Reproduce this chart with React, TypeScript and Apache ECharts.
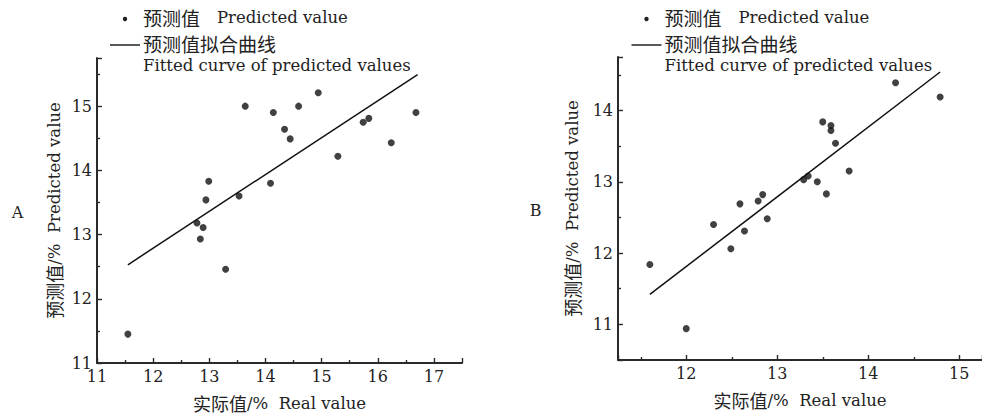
import React, { useEffect, useRef } from "react";
import * as echarts from "echarts";

// Panel A: real vs. predicted values (%)
const realA = [11.55, 12.78, 12.84, 12.89, 12.94, 12.99, 13.29, 13.53, 13.64, 14.09, 14.14, 14.34, 14.44, 14.59, 14.94, 15.29, 15.74, 15.84, 16.24, 16.68];
const predA = [11.45, 13.18, 12.93, 13.11, 13.54, 13.83, 12.46, 13.6, 15.0, 13.8, 14.9, 14.64, 14.49, 15.0, 15.21, 14.22, 14.75, 14.81, 14.43, 14.9];
const fitRealA = [11.55, 16.71];
const fitPredA = [12.53, 15.49];

// Panel B: real vs. predicted values (%)
const realB = [11.6, 12.0, 12.3, 12.49, 12.59, 12.64, 12.79, 12.84, 12.89, 13.29, 13.34, 13.44, 13.5, 13.54, 13.59, 13.59, 13.64, 13.79, 14.3, 14.79];
const predB = [11.84, 10.94, 12.4, 12.06, 12.69, 12.31, 12.73, 12.82, 12.48, 13.03, 13.08, 13.0, 13.84, 12.83, 13.79, 13.72, 13.54, 13.15, 14.39, 14.19];
const fitRealB = [11.6, 14.79];
const fitPredB = [11.42, 14.54];

// Labels
const panelLabels = ["A", "B"];
const legendDotZh = "预测值";
const legendDotEn = "Predicted value";
const legendLineZh = "预测值拟合曲线";
const legendLineEn = "Fitted curve of predicted values";
const xTitleZh = "实际值";
const xTitleEn = "/%  Real value";
const yTitleZh = "预测值";
const yTitleEn = "/%  Predicted value";

const INK = "#222";
const SERIF = "'DejaVu Serif', 'Liberation Serif', serif";
const CJK = "'Noto Sans CJK SC', sans-serif";

const pairs = (xs: number[], ys: number[]) => xs.map((x, i) => [x, ys[i]]);

const titleRich = {
  zh: { fontFamily: CJK, fontSize: 18, color: INK },
  en: { fontFamily: SERIF, fontSize: 16.5, color: INK },
};

function valueAxis(cfg: any) {
  return {
    type: "value",
    gridIndex: cfg.gridIndex,
    min: cfg.min,
    max: cfg.max,
    ...(cfg.interval ? { interval: cfg.interval } : { splitNumber: cfg.splitNumber }),
    axisLine: { show: true, onZero: false, lineStyle: { color: "#2a2a2a", width: 2 } },
    axisTick: { show: true, inside: true, length: 5, lineStyle: { color: "#2a2a2a", width: 1.4 } },
    minorTick: { show: true, splitNumber: 2, length: 3, lineStyle: { color: "#2a2a2a", width: 1.4 } },
    splitLine: { show: false },
    minorSplitLine: { show: false },
    axisLabel: {
      color: INK,
      fontFamily: SERIF,
      fontSize: 16,
      margin: 5,
      formatter: (v: number) => (Math.abs(v - Math.round(v)) < 1e-9 ? String(Math.round(v)) : ""),
    },
    name: cfg.name,
    nameLocation: "middle",
    nameGap: cfg.nameGap,
    nameTextStyle: { color: INK, rich: titleRich },
  };
}

function legendGraphics(dx: number) {
  return [
    { type: "circle", shape: { cx: 125 + dx, cy: 19, r: 2.2 }, style: { fill: INK } },
    { type: "text", x: 143 + dx, y: 17, style: { text: legendDotZh, fontFamily: CJK, fontSize: 19, fill: INK, verticalAlign: "middle" } },
    { type: "text", x: 217 + dx, y: 17, style: { text: legendDotEn, fontFamily: SERIF, fontSize: 16.5, fill: INK, verticalAlign: "middle" } },
    { type: "line", shape: { x1: 110 + dx, y1: 45, x2: 140 + dx, y2: 45 }, style: { stroke: INK, lineWidth: 1.5 } },
    { type: "text", x: 143 + dx, y: 43.5, style: { text: legendLineZh, fontFamily: CJK, fontSize: 19, fill: INK, verticalAlign: "middle" } },
    { type: "text", x: 143 + dx, y: 65, style: { text: legendLineEn, fontFamily: SERIF, fontSize: 16.5, fill: INK, verticalAlign: "middle" } },
  ];
}

export default function App() {
  const ref = useRef<HTMLDivElement>(null);

  useEffect(() => {
    if (!ref.current) return;
    const chart = echarts.init(ref.current, undefined, { renderer: "svg" });

    const xName = `{zh|${xTitleZh}}{en|${xTitleEn}}`;
    const yName = `{zh|${yTitleZh}}{en|${yTitleEn}}`;

    chart.setOption({
      animation: false,
      backgroundColor: "#fff",
      grid: [
        { left: 97, top: 58, width: 365, height: 305, containLabel: false, outerBoundsMode: "none" },
        { left: 618, top: 57, width: 364, height: 303, containLabel: false, outerBoundsMode: "none" },
      ],
      xAxis: [
        valueAxis({ gridIndex: 0, min: 11, max: 17.5, interval: 1, name: xName, nameGap: 31 }),
        valueAxis({ gridIndex: 1, min: 11.25, max: 15.25, splitNumber: 4, name: xName, nameGap: 31 }),
      ],
      yAxis: [
        valueAxis({ gridIndex: 0, min: 11, max: 15.75, interval: 1, name: yName, nameGap: 34 }),
        valueAxis({ gridIndex: 1, min: 10.5, max: 14.75, splitNumber: 4, name: yName, nameGap: 37 }),
      ],
      series: [
        {
          type: "scatter",
          xAxisIndex: 0,
          yAxisIndex: 0,
          data: pairs(realA, predA),
          symbolSize: 7,
          itemStyle: { color: "#111" },
        },
        {
          type: "line",
          xAxisIndex: 0,
          yAxisIndex: 0,
          data: pairs(fitRealA, fitPredA),
          showSymbol: false,
          lineStyle: { color: "#111", width: 1.5 },
        },
        {
          type: "scatter",
          xAxisIndex: 1,
          yAxisIndex: 1,
          data: pairs(realB, predB),
          symbolSize: 7,
          itemStyle: { color: "#111" },
        },
        {
          type: "line",
          xAxisIndex: 1,
          yAxisIndex: 1,
          data: pairs(fitRealB, fitPredB),
          showSymbol: false,
          lineStyle: { color: "#111", width: 1.5 },
        },
      ],
      graphic: [
        ...legendGraphics(0),
        ...legendGraphics(521.5),
        { type: "text", x: 17.5, y: 212, style: { text: panelLabels[0], fontFamily: SERIF, fontSize: 16, fill: INK, align: "center", verticalAlign: "middle" } },
        { type: "text", x: 535.5, y: 210, style: { text: panelLabels[1], fontFamily: SERIF, fontSize: 16, fill: INK, align: "center", verticalAlign: "middle" } },
      ],
    });

    return () => chart.dispose();
  }, []);

  return (
    <div
      ref={ref}
      style={{ position: "fixed", left: 0, top: 0, width: 982, height: 420, background: "#fff" }}
    />
  );
}
